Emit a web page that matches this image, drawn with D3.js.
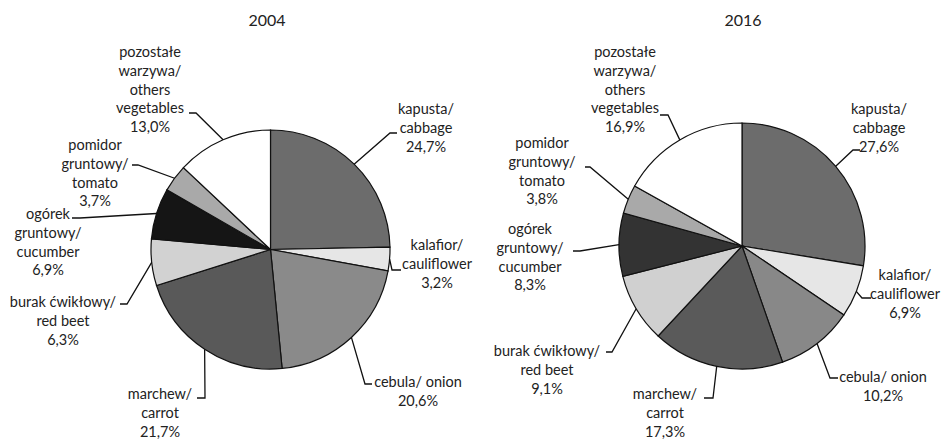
<!DOCTYPE html>
<html>
<head>
<meta charset="utf-8">
<script src="https://d3js.org/d3.v7.min.js"></script>
<style>
body { margin: 0; background: #fff; }
text { font-family: Lato, "Open Sans", sans-serif; fill: #222; }
.label { font-size: 14.5px; }
.title { font-size: 16px; }
</style>
</head>
<body>
<div id="chart"></div>
<script>
var width = 943;
var height = 440;

// categories (Polish / English), in pie order, clockwise from 12 o'clock
var categories = [
  ["kapusta/", "cabbage"],
  ["kalafior/", "cauliflower"],
  ["cebula/ onion"],
  ["marchew/", "carrot"],
  ["burak ćwikłowy/", "red beet"],
  ["ogórek", "gruntowy/", "cucumber"],
  ["pomidor", "gruntowy/", "tomato"],
  ["pozostałe", "warzywa/", "others", "vegetables"]
];
var years = ["2004", "2016"];
var values2004 = [24.7, 3.2, 20.6, 21.7, 6.3, 6.9, 3.7, 13.0];
var values2016 = [27.6, 6.9, 10.2, 17.3, 9.1, 8.3, 3.8, 16.9];

var colors2004 = ["#6c6c6c", "#e6e6e6", "#8a8a8a", "#595959", "#d2d2d2", "#151515", "#a9a9a9", "#ffffff"];
var colors2016 = ["#6c6c6c", "#e6e6e6", "#888888", "#5a5a5a", "#d0d0d0", "#333333", "#a9a9a9", "#ffffff"];

// hand placed label layout: text centre x, first line y, elbow of leader, end x of leader
var layouts = [
  {
    cx: 270.5, cy: 249.5, r: 119.5, titleX: 267,
    labels: [
      { x: 426, y: 109, ex: 390, ey: 133, hx: 397 },
      { x: 437, y: 245, ex: 392, ey: 270, hx: 401 },
      { x: 418, y: 382, ex: 365, ey: 384, hx: 372 },
      { x: 160, y: 394, ex: 205, ey: 398, hx: 197 },
      { x: 63,  y: 302, ex: 127, ey: 304, hx: 120 },
      { x: 48,  y: 214, ex: 80,  ey: 218, hx: 72 },
      { x: 95,  y: 145, ex: 138, ey: 165, hx: 132 },
      { x: 150, y: 52,  ex: 196, ey: 113, hx: 189 }
    ]
  },
  {
    cx: 742, cy: 246, r: 123, titleX: 743,
    labels: [
      { x: 879, y: 109, ex: 853, ey: 150, hx: 860 },
      { x: 905, y: 275, ex: 862, ey: 298, hx: 871 },
      { x: 883, y: 377, ex: 830, ey: 378, hx: 838 },
      { x: 665, y: 394, ex: 713, ey: 398, hx: 704 },
      { x: 547, y: 351, ex: 612, ey: 352, hx: 606 },
      { x: 530, y: 229, ex: 580, ey: 251, hx: 573 },
      { x: 542, y: 143, ex: 590, ey: 167, hx: 585 },
      { x: 625, y: 52,  ex: 668, ey: 115, hx: 660 }
    ]
  }
];

var lineHeight = 18.8;

var svg = d3.select("#chart").append("svg")
  .attr("width", width).attr("height", height);

var pie = d3.pie().sort(null).value(d => d);

function fmt(v) { return v.toFixed(1).replace(".", ",") + "%"; }

function drawPie(values, colors, layout, title) {
  var g = svg.append("g").attr("transform", "translate(" + layout.cx + "," + layout.cy + ")");
  var arc = d3.arc().innerRadius(0).outerRadius(layout.r);
  var arcs = pie(values);

  g.selectAll("path.slice").data(arcs).enter().append("path")
    .attr("class", "slice")
    .attr("d", arc)
    .style("fill", (d, i) => colors[i])
    .style("stroke", "#111")
    .style("stroke-width", 1.2);

  svg.append("text").attr("class", "title")
    .attr("x", layout.titleX).attr("y", 20)
    .attr("dy", "0.35em")
    .attr("text-anchor", "middle")
    .text(title);

  arcs.forEach(function (a, i) {
    var lab = layout.labels[i];
    var mid = (a.startAngle + a.endAngle) / 2;
    var px = layout.cx + layout.r * Math.sin(mid);
    var py = layout.cy - layout.r * Math.cos(mid);

    svg.append("path")
      .attr("d", d3.line()([[px, py], [lab.ex, lab.ey], [lab.hx, lab.ey]]))
      .style("fill", "none")
      .style("stroke", "#111")
      .style("stroke-width", 1.3);

    var lines = categories[i].concat([fmt(values[i])]);
    var t = svg.append("text").attr("class", "label")
      .attr("text-anchor", "middle");
    lines.forEach(function (s, j) {
      t.append("tspan")
        .attr("x", lab.x)
        .attr("y", lab.y + j * lineHeight)
        .attr("dy", "0.35em")
        .text(s);
    });
  });
}

drawPie(values2004, colors2004, layouts[0], years[0]);
drawPie(values2016, colors2016, layouts[1], years[1]);
</script>
</body>
</html>
